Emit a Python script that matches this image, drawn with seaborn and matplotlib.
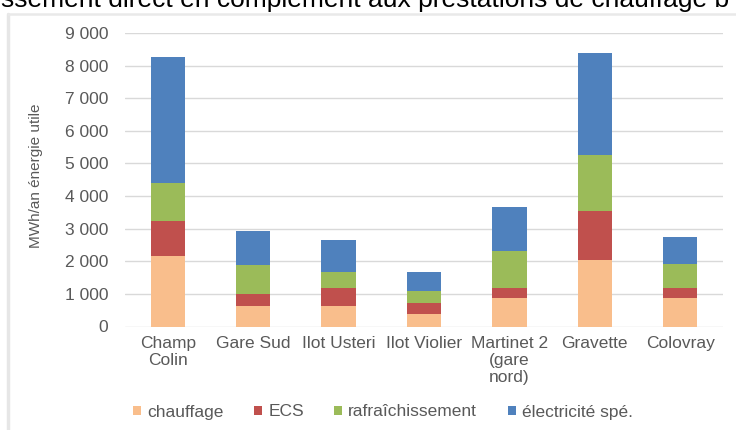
import matplotlib
matplotlib.use("Agg")
import matplotlib.pyplot as plt
from matplotlib.lines import Line2D
from matplotlib.patches import Patch
from matplotlib.ticker import FuncFormatter, MultipleLocator
import numpy as np
import pandas as pd
import seaborn as sns

# Sites and useful-energy needs (MWh/an) per usage
sites = ["Champ\nColin", "Gare Sud", "Ilot Usteri", "Ilot Violier",
         "Martinet 2\n(gare\nnord)", "Gravette", "Colovray"]
chauffage = [2160, 640, 640, 390, 860, 2030, 860]
ecs = [1080, 360, 530, 330, 320, 1510, 320]
rafraichissement = [1160, 880, 510, 360, 1140, 1710, 740]
electricite = [3860, 1050, 970, 580, 1350, 3130, 830]

usages = ["chauffage", "ECS", "rafraîchissement", "électricité spé."]
colors = ["#F9BE8C", "#C0504D", "#9BBB59", "#4F81BD"]

sns.set_style("white")
plt.rcParams["font.family"] = ["Liberation Sans", "DejaVu Sans"]

fig = plt.figure(figsize=(7.36, 4.30), dpi=100)
ax = fig.add_axes([125 / 736, 1 - 326.5 / 430, 598 / 736, (326.5 - 33) / 430])

df = pd.DataFrame({
    "site": sites,
    "chauffage": chauffage,
    "ECS": ecs,
    "rafraîchissement": rafraichissement,
    "électricité spé.": electricite,
})
cum = df[usages].cumsum(axis=1)

# stacked bars: draw the cumulative totals from the top segment down
for usage, color in reversed(list(zip(usages, colors))):
    sns.barplot(x=df["site"], y=cum[usage], color=color, width=0.4,
                saturation=1, ax=ax, zorder=3, edgecolor="none")

ax.set_ylim(0, 9000)
ax.set_xlim(-0.5, len(sites) - 0.5)
ax.yaxis.set_major_locator(MultipleLocator(1000))
ax.yaxis.set_major_formatter(FuncFormatter(lambda v, p: f"{int(v):,}".replace(",", " ")))
ax.grid(axis="y", color="#D9D9D9", linewidth=1.0, zorder=0)
ax.grid(axis="x", visible=False)
for s in ax.spines.values():
    s.set_visible(False)
ax.set_xlabel("")
ax.set_ylabel("")
ax.tick_params(axis="y", length=0, pad=12, labelsize=12.5, labelcolor="#595959")
ax.tick_params(axis="x", length=0, pad=7, labelsize=12.5, labelcolor="#595959")
for lbl in ax.get_xticklabels():
    lbl.set_linespacing(1.15)

fig.text(36.5 / 736, 1 - 176 / 430, "MWh/an énergie utile", rotation=90,
         ha="center", va="center", fontsize=11, color="#595959")

handles = [Patch(facecolor=c, edgecolor="none", label=u) for u, c in zip(usages, colors)]
fig.legend(handles=handles, loc="center", bbox_to_anchor=(383 / 736, 1 - 412 / 430),
           ncol=4, frameon=False, fontsize=12.5, labelcolor="#595959",
           handlelength=0.46, handleheight=0.46, handletextpad=0.35,
           columnspacing=1.75, borderpad=0)

# outer frame of the chart area
fig.add_artist(Line2D([8 / 736, 8 / 736], [0, 1 - 14 / 430], transform=fig.transFigure,
                      color="#E6E6E6", linewidth=2.5))
fig.add_artist(Line2D([8 / 736, 1], [1 - 14 / 430, 1 - 14 / 430], transform=fig.transFigure,
                      color="#E9E9E9", linewidth=1.8))

# heading text running above the chart frame
fig.text(365 / 736, 1 - 7 / 430,
         "ssement direct en complément aux prestations de chauffage b",
         ha="center", va="baseline", fontsize=19, color="black")

fig.savefig("out.png", dpi=100)
